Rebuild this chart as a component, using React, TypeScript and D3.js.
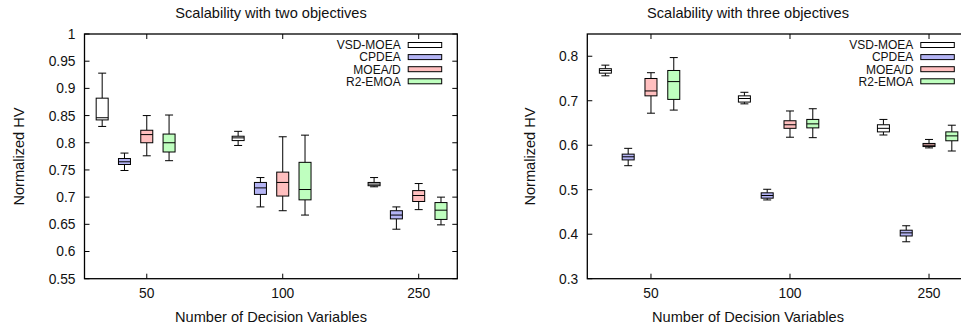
import React from "react";
import * as d3 from "d3";

// ---------- data ----------
const groups = ["50", "100", "250"];
const algorithms = ["VSD-MOEA", "CPDEA", "MOEA/D", "R2-EMOA"];
const fills = ["#ffffff", "#b4b4f4", "#ffbfbf", "#bfffbf"];

// each entry: [lowerWhisker, q1, median, q3, upperWhisker] per group (50, 100, 250)
const vsdTwo = [[0.830, 0.842, 0.846, 0.882, 0.928], [0.795, 0.804, 0.809, 0.812, 0.821], [0.719, 0.721, 0.724, 0.727, 0.736]];
const cpdeaTwo = [[0.749, 0.760, 0.765, 0.771, 0.781], [0.682, 0.705, 0.717, 0.727, 0.736], [0.641, 0.660, 0.667, 0.675, 0.682]];
const moeadTwo = [[0.776, 0.800, 0.815, 0.823, 0.850], [0.675, 0.702, 0.727, 0.746, 0.811], [0.677, 0.692, 0.703, 0.712, 0.725]];
const r2Two = [[0.767, 0.783, 0.800, 0.816, 0.851], [0.667, 0.695, 0.714, 0.764, 0.814], [0.649, 0.659, 0.676, 0.690, 0.700]];

const vsdThree = [[0.756, 0.762, 0.768, 0.772, 0.780], [0.693, 0.697, 0.705, 0.711, 0.719], [0.623, 0.630, 0.638, 0.646, 0.658]];
const cpdeaThree = [[0.554, 0.567, 0.574, 0.580, 0.593], [0.477, 0.481, 0.487, 0.493, 0.501], [0.383, 0.396, 0.403, 0.409, 0.419]];
const moeadThree = [[0.672, 0.711, 0.722, 0.750, 0.763], [0.618, 0.638, 0.646, 0.655, 0.677], [0.594, 0.597, 0.600, 0.604, 0.613]];
const r2Three = [[0.679, 0.703, 0.743, 0.768, 0.797], [0.617, 0.639, 0.648, 0.658, 0.682], [0.587, 0.610, 0.621, 0.630, 0.645]];

const ticksTwo = [0.55, 0.6, 0.65, 0.7, 0.75, 0.8, 0.85, 0.9, 0.95, 1];
const ticksThree = [0.3, 0.4, 0.5, 0.6, 0.7, 0.8];

const titleTwo = "Scalability with two objectives";
const titleThree = "Scalability with three objectives";
const xTitle = "Number of Decision Variables";
const yTitle = "Normalized HV";

// ---------- layout ----------
const FONT = "'Liberation Sans', Arial, Helvetica, sans-serif";
const BOX_W = 12;
const CAP_W = 8;
const OFFSETS = [-2, -1, 0, 1];
const OFFSET_STEP = 0.164;

type PanelProps = {
  left: number;
  right: number;
  top: number;
  bottom: number;
  yDomain: [number, number];
  ticks: number[];
  series: number[][][];
  title: string;
  titleX: number;
  yTitleX: number;
  legendTextX: number;
};

function Panel(p: PanelProps) {
  const x = d3.scaleLinear().domain([0.542, 3.284]).range([p.left, p.right]);
  const y = d3.scaleLinear().domain(p.yDomain).range([p.bottom, p.top]);
  const fmt = (v: number) => String(+v.toFixed(2));
  const tl = 5;
  return (
    <g>
      {/* boxes */}
      {p.series.map((groupStats, ai) =>
        groupStats.map((s, gi) => {
          const cx = x(gi + 1 + OFFSETS[ai] * OFFSET_STEP);
          const [lo, q1, med, q3, hi] = s;
          return (
            <g key={`${ai}-${gi}`} stroke="#000" strokeWidth={1}>
              <line x1={cx} x2={cx} y1={y(hi)} y2={y(q3)} />
              <line x1={cx} x2={cx} y1={y(q1)} y2={y(lo)} />
              <line x1={cx - CAP_W / 2} x2={cx + CAP_W / 2} y1={y(hi)} y2={y(hi)} />
              <line x1={cx - CAP_W / 2} x2={cx + CAP_W / 2} y1={y(lo)} y2={y(lo)} />
              <rect
                x={cx - BOX_W / 2}
                y={y(q3)}
                width={BOX_W}
                height={Math.max(0.5, y(q1) - y(q3))}
                fill={fills[ai]}
              />
              <line x1={cx - BOX_W / 2} x2={cx + BOX_W / 2} y1={y(med)} y2={y(med)} />
            </g>
          );
        })
      )}
      {/* frame */}
      <rect
        x={p.left}
        y={p.top}
        width={p.right - p.left}
        height={p.bottom - p.top}
        fill="none"
        stroke="#000"
        strokeWidth={1.3}
      />
      {/* y ticks */}
      {p.ticks.map((t) => (
        <g key={t}>
          <line x1={p.left} x2={p.left + tl} y1={y(t)} y2={y(t)} stroke="#000" />
          <line x1={p.right} x2={p.right - tl} y1={y(t)} y2={y(t)} stroke="#000" />
          <text
            x={p.left - 9}
            y={y(t)}
            dy="0.36em"
            textAnchor="end"
            fontSize={13.8}
            fontFamily={FONT}
            fill="#111"
          >
            {fmt(t)}
          </text>
        </g>
      ))}
      {/* x ticks */}
      {groups.map((g, gi) => (
        <g key={g}>
          <line x1={x(gi + 1)} x2={x(gi + 1)} y1={p.bottom} y2={p.bottom - tl} stroke="#000" />
          <line x1={x(gi + 1)} x2={x(gi + 1)} y1={p.top} y2={p.top + tl} stroke="#000" />
          <text
            x={x(gi + 1)}
            y={298}
            textAnchor="middle"
            fontSize={13.8}
            fontFamily={FONT}
            fill="#111"
          >
            {g}
          </text>
        </g>
      ))}
      {/* titles */}
      <text x={p.titleX} y={18} textAnchor="middle" fontSize={14.6} fontFamily={FONT} fill="#111">
        {p.title}
      </text>
      <text x={p.titleX} y={322} textAnchor="middle" fontSize={14.6} fontFamily={FONT} fill="#111">
        {xTitle}
      </text>
      <text
        transform={`translate(${p.yTitleX},156.5) rotate(-90)`}
        dy="0.36em"
        textAnchor="middle"
        fontSize={14.6}
        fontFamily={FONT}
        fill="#111"
      >
        {yTitle}
      </text>
      {/* legend */}
      {algorithms.map((a, i) => {
        const cy = 45 + i * 12.1;
        return (
          <g key={a}>
            <text
              x={p.legendTextX}
              y={cy}
              dy="0.36em"
              textAnchor="end"
              fontSize={12}
              fontFamily={FONT}
              fill="#111"
            >
              {a}
            </text>
            <rect
              x={p.legendTextX + 7.5}
              y={cy - 2.5}
              width={33.5}
              height={5}
              fill={fills[i]}
              stroke="#000"
              strokeWidth={1}
            />
          </g>
        );
      })}
    </g>
  );
}

export default function App() {
  return (
    <svg
      width={961}
      height={328}
      viewBox="0 0 961 328"
      style={{ position: "absolute", left: 0, top: 0, background: "#fff" }}
    >
      <rect width={961} height={328} fill="#fff" />
      <Panel
        left={84.5}
        right={457.3}
        top={34}
        bottom={278.7}
        yDomain={[0.55, 1]}
        ticks={ticksTwo}
        series={[vsdTwo, cpdeaTwo, moeadTwo, r2Two]}
        title={titleTwo}
        titleX={271}
        yTitleX={18.3}
        legendTextX={400.7}
      />
      <Panel
        left={587.3}
        right={968.5}
        top={34}
        bottom={278.7}
        yDomain={[0.3, 0.85]}
        ticks={ticksThree}
        series={[vsdThree, cpdeaThree, moeadThree, r2Three]}
        title={titleThree}
        titleX={748}
        yTitleX={529.5}
        legendTextX={913.3}
      />
    </svg>
  );
}
